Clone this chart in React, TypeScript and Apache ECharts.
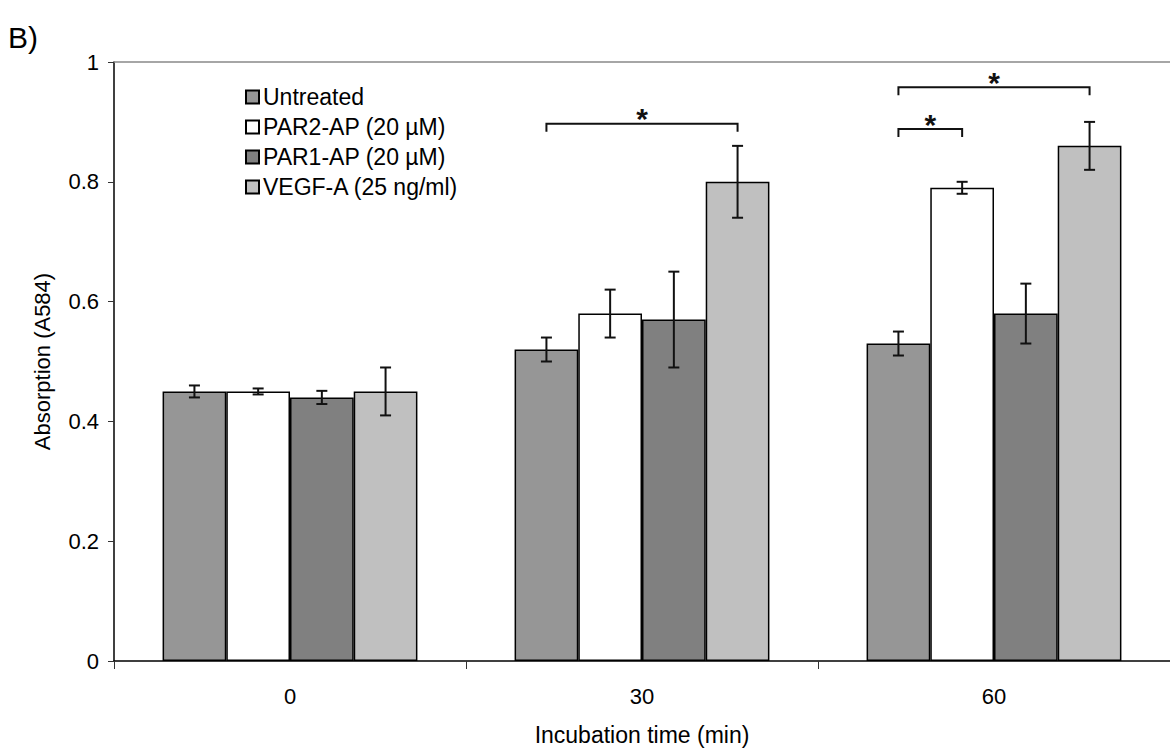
import React, { useEffect, useRef } from "react";
import * as echarts from "echarts";

const categories = ["0", "30", "60"];
const seriesNames = ["Untreated", "PAR2-AP (20 µM)", "PAR1-AP (20 µM)", "VEGF-A (25 ng/ml)"];
const untreated = [0.45, 0.52, 0.53];
const untreatedErr = [0.01, 0.02, 0.02];
const par2 = [0.45, 0.58, 0.79];
const par2Err = [0.005, 0.04, 0.01];
const par1 = [0.44, 0.57, 0.58];
const par1Err = [0.011, 0.08, 0.05];
const vegf = [0.45, 0.8, 0.86];
const vegfErr = [0.04, 0.06, 0.04];
const yTicks = [0, 0.2, 0.4, 0.6, 0.8, 1];
// [category index, from bar, to bar, bracket level]
const brackets = [
  [1, 0, 3, 0.897],
  [2, 0, 3, 0.958],
  [2, 0, 1, 0.888],
];

const colors = ["#969696", "#ffffff", "#808080", "#c0c0c0"];
const FONT = "'Liberation Sans', Arial, sans-serif";
const BAR_RATIO = 0.181;
const FS = 22;

export default function App() {
  const ref = useRef<HTMLDivElement>(null);
  useEffect(() => {
    if (!ref.current) return;
    const chart = echarts.init(ref.current, null, { renderer: "svg" });
    const values = [untreated, par2, par1, vegf];
    const errs = [untreatedErr, par2Err, par1Err, vegfErr];

    const barSeries = values.map((vals, s) => ({
      name: seriesNames[s],
      type: "bar",
      data: vals,
      barWidth: BAR_RATIO * 100 + "%",
      barGap: "0%",
      itemStyle: { color: colors[s], borderColor: "#000", borderWidth: 1.5 },
      z: 2,
      ...(s === 0
        ? {
            markLine: {
              silent: true,
              symbol: "none",
              label: { show: false },
              lineStyle: { color: "#888", type: "solid", width: 1.5 },
              data: [{ yAxis: yTicks[yTicks.length - 1] }],
            },
          }
        : {}),
    }));

    const errSeries = values.map((vals, s) => ({
      type: "custom",
      name: "err" + s,
      z: 5,
      silent: true,
      data: vals.map((v, i) => [i, v - errs[s][i], v + errs[s][i]]),
      renderItem: (params: any, api: any) => {
        const c = api.value(0);
        const bw = api.size([1, 0])[0] * BAR_RATIO;
        const off = (s - 1.5) * bw;
        const pHi = api.coord([c, api.value(2)]);
        const pLo = api.coord([c, api.value(1)]);
        const x = pHi[0] + off;
        const cap = 5.5;
        const style = { stroke: "#111", lineWidth: 2 };
        return {
          type: "group",
          children: [
            { type: "line", shape: { x1: x, y1: pHi[1], x2: x, y2: pLo[1] }, style },
            { type: "line", shape: { x1: x - cap, y1: pHi[1], x2: x + cap, y2: pHi[1] }, style },
            { type: "line", shape: { x1: x - cap, y1: pLo[1], x2: x + cap, y2: pLo[1] }, style },
          ],
        };
      },
    }));

    const bracketSeries = {
      type: "custom",
      name: "brackets",
      z: 6,
      silent: true,
      data: brackets,
      renderItem: (params: any, api: any) => {
        const c = api.value(0);
        const from = api.value(1);
        const to = api.value(2);
        const bw = api.size([1, 0])[0] * BAR_RATIO;
        const p = api.coord([c, api.value(3)]);
        const x1 = p[0] + (from - 1.5) * bw;
        const x2 = p[0] + (to - 1.5) * bw;
        const y = p[1];
        const tip = 8;
        return {
          type: "group",
          children: [
            {
              type: "polyline",
              shape: { points: [[x1, y + tip], [x1, y], [x2, y], [x2, y + tip]] },
              style: { stroke: "#111", lineWidth: 2, fill: "none" },
            },
            {
              type: "text",
              style: {
                text: "*",
                x: (x1 + x2) / 2,
                y: y - 5,
                align: "center",
                verticalAlign: "middle",
                fontSize: 30,
                fontWeight: "bold",
                fontFamily: FONT,
                fill: "#111",
              },
            },
          ],
        };
      },
    };

    chart.setOption({
      animation: false,
      textStyle: { fontFamily: FONT },
      grid: { left: 114, right: -4, top: 62, bottom: 88, containLabel: false },
      legend: {
        data: seriesNames,
        orient: "vertical",
        left: 245,
        top: 85,
        padding: 0,
        itemWidth: 13,
        itemHeight: 13,
        itemGap: 6,
        icon: "rect",
        selectedMode: false,
        textStyle: { fontSize: 23, lineHeight: 24, color: "#000", fontFamily: FONT, padding: [0, 0, 0, -1] },
      },
      xAxis: {
        type: "category",
        data: categories,
        axisLine: { lineStyle: { color: "#000", width: 1.5 } },
        axisTick: { show: true, length: 8, lineStyle: { color: "#333" } },
        axisLabel: { fontSize: FS, color: "#000", margin: 24, fontFamily: FONT },
        name: "Incubation time (min)",
        nameLocation: "middle",
        nameGap: 62,
        nameTextStyle: { fontSize: 23, color: "#000", fontFamily: FONT },
      },
      yAxis: {
        type: "value",
        min: 0,
        max: 1,
        interval: 0.2,
        splitLine: { show: false },
        axisLine: { show: true, lineStyle: { color: "#000", width: 1.5 } },
        axisTick: { show: true, length: 6, lineStyle: { color: "#333" } },
        axisLabel: { fontSize: FS, color: "#000", margin: 15, fontFamily: FONT },
        name: "Absorption (A584)",
        nameLocation: "middle",
        nameGap: 61,
        nameTextStyle: { fontSize: FS, color: "#000", fontFamily: FONT },
      },
      graphic: [
        {
          type: "text",
          left: 8,
          top: 22,
          style: { text: "B)", fontSize: 30, fill: "#000", fontFamily: FONT },
        },
      ],
      series: [...barSeries, ...errSeries, bracketSeries],
    });
    return () => chart.dispose();
  }, []);
  return (
    <div
      ref={ref}
      style={{ position: "absolute", left: 0, top: 0, width: 1170, height: 751, background: "#fff" }}
    />
  );
}
